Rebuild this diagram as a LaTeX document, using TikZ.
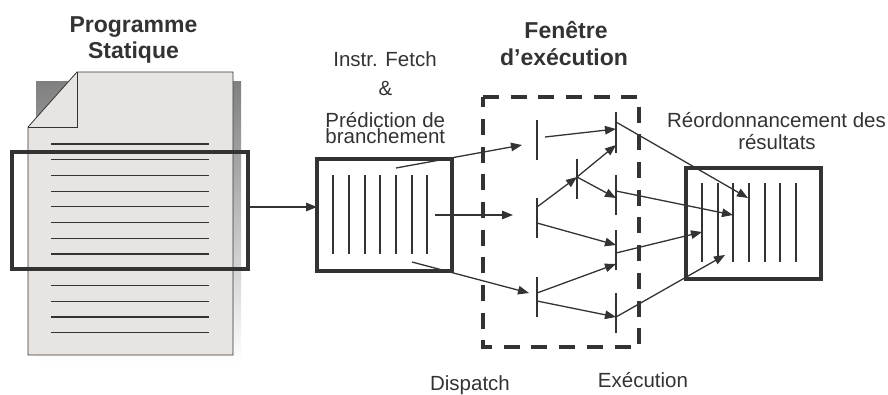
\documentclass[tikz,border=0pt]{standalone}
\usepackage{fontspec}
\setmainfont{Liberation Sans}
\usetikzlibrary{arrows.meta}
\definecolor{ink}{HTML}{333333}
\definecolor{paper}{HTML}{E8E4E2}
\definecolor{shade}{HTML}{8E817D}
\begin{document}
\begin{tikzpicture}[x=1pt,y=-1pt,
  thinline/.style={draw=ink,line width=1.3pt},
  arr/.style={thinline,-{Triangle[length=11pt,width=8.5pt]}},
  bar/.style={draw=ink,line width=1.3pt},
  frame/.style={draw=ink,line width=4pt,fill=none,inner sep=0pt,outer sep=0pt},
  whitebox/.style={frame,fill=white},
  docline/.style={draw=ink,line width=1.2pt},
  winline/.style={draw=ink,line width=4pt,dash pattern=on 16pt off 11.7pt},
  lbl/.style={text=ink,font=\fontsize{20.5}{16}\selectfont,anchor=base,inner sep=0pt},
  ttl/.style={text=ink,font=\bfseries\fontsize{23}{28}\selectfont,anchor=base,inner sep=0pt}]
\useasboundingbox (0,0) rectangle (888,394);

% static program document
\fill[shade] (36,81) rectangle (241,363);
\filldraw[fill=paper,draw=ink,line width=0.8pt] (28,127) -- (77,72) -- (233,72) -- (233,355) -- (28,355) -- cycle;
\draw[ink,line width=0.8pt] (28,127) -- (77,127) -- (77,72);
\foreach \k in {0,...,7,9,10,11,12}
  \draw[docline] (51,{144+15.72*\k}) -- (209,{144+15.72*\k});
\node[frame,draw,minimum width=236pt,minimum height=117pt] (sel) at (130,210.5) {};

% titles and labels
\node[ttl] (t1a) at (133.5,32) {Programme};
\node[ttl] (t1b) at (133.5,58) {Statique};
\node[ttl] (t2a) at (566,38) {Fenêtre};
\node[ttl] (t2b) at (564,65) {d’exécution};
\node[lbl] (t3a) at (385,66) {Instr. Fetch};
\node[lbl] (t3b) at (385.5,95) {\&};
\node[lbl,align=center] (t3c) at (385.3,143) {Prédiction de\\branchement};
\node[lbl] (t4a) at (776.5,127) {Réordonnancement des};
\node[lbl] (t4b) at (777,149) {résultats};
\node[lbl] (t5) at (470,390) {Dispatch};
\node[lbl] (t6) at (643,387) {Exécution};

% fetch box
\node[whitebox,draw,minimum width=135pt,minimum height=112pt] (fetch) at (384.5,215) {};
\foreach \x in {333,349,365,380,396,412,427}
  \draw[bar] (\x,175) -- (\x,254);

% reorder box
\node[whitebox,draw,minimum width=135pt,minimum height=111pt] (rob) at (753.5,223.5) {};
\foreach \x in {702,718,733,749,765,780,796}
  \draw[bar] (\x,183) -- (\x,262);

% execution window
\node[minimum width=156pt,minimum height=250pt,inner sep=0pt] (win) at (561,222) {};
\draw[winline] (win.north west) -- (win.north east) -- (win.south east) -- (win.south west) -- cycle;

% feed arrow
\coordinate (fa) at (283,207);
\draw[arr] (sel.east |- fa) -- (fetch.west |- fa);

% stage bars
\draw[bar] (537,120) -- (537,160);
\draw[bar] (537,198) -- (537,238);
\draw[bar] (537,277) -- (537,317);
\draw[bar] (577,159) -- (577,199);
\draw[bar] (616,112) -- (616,153);
\draw[bar] (616,175) -- (616,215);
\draw[bar] (616,230) -- (616,270);
\draw[bar] (616,293) -- (616,333);

% coordinates
\coordinate (f1) at (396,168);
\coordinate (f2) at (435,215);
\coordinate (f3) at (412,262);
\coordinate (d1i) at (522,145);
\coordinate (d2i) at (513,215);
\coordinate (d3i) at (529,293);
\coordinate (d1o) at (545,137);
\coordinate (d2a) at (537,207);
\coordinate (d2b) at (537,223);
\coordinate (d3a) at (537,293);
\coordinate (d3b) at (537,301);
\coordinate (m) at (577,177);
\coordinate (e1a) at (616,129);
\coordinate (e1b) at (616,145);
\coordinate (e1o) at (616,122);
\coordinate (e2a) at (616,198);
\coordinate (e2o) at (616,191);
\coordinate (e3a) at (616,245);
\coordinate (e3b) at (616,264);
\coordinate (e3o) at (616,253);
\coordinate (e4a) at (616,317);
\coordinate (r1) at (748,198);
\coordinate (r2) at (733,215);
\coordinate (r3) at (702,232);
\coordinate (r4) at (725,255);

% dispatch arrows
\draw[arr] (f1) -- (d1i);
\draw[arr] (f2) -- (d2i);
\draw[arr] (f3) -- (d3i);
\draw[arr] (d1o) -- (e1a);
\draw[arr] (d2a) -- (m);
\draw[arr] (m) -- (e1b);
\draw[arr] (m) -- (e2a);
\draw[arr] (d2b) -- (e3a);
\draw[arr] (d3a) -- (e3b);
\draw[arr] (d3b) -- (e4a);
% result arrows
\draw[arr] (e1o) -- (r1);
\draw[arr] (e2o) -- (r2);
\draw[arr] (e3o) -- (r3);
\draw[arr] (e4a) -- (r4);
\end{tikzpicture}
\end{document}
